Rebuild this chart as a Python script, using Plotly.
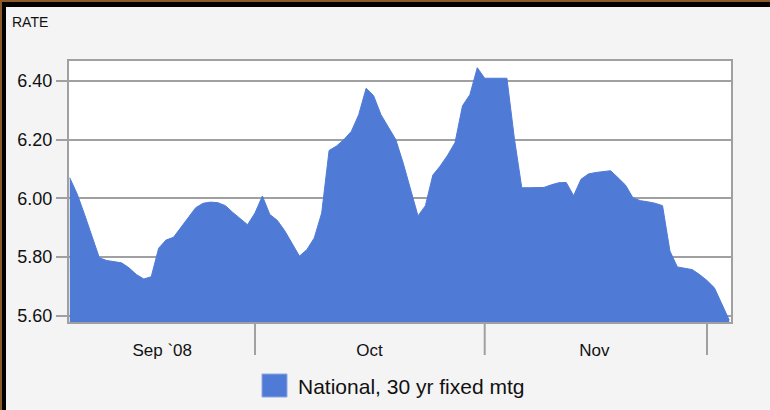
import plotly.graph_objects as go
import pandas as pd

# ---- data ----
dates = pd.date_range("2008-09-06", "2008-12-04", freq="D")
rates = [
    6.070, 6.015, 5.945, 5.873, 5.797, 5.788, 5.783, 5.780, 5.763, 5.740,
    5.725, 5.733, 5.830, 5.858, 5.867, 5.900, 5.935, 5.968, 5.983, 5.987,
    5.985, 5.975, 5.952, 5.930, 5.910, 5.950, 6.008, 5.945, 5.925, 5.890,
    5.845, 5.803, 5.825, 5.865, 5.950, 6.163, 6.178, 6.200, 6.228, 6.285,
    6.375, 6.350, 6.285, 6.243, 6.200, 6.120, 6.030, 5.940, 5.975, 6.079,
    6.110, 6.147, 6.190, 6.315, 6.353, 6.445, 6.409, 6.409, 6.409, 6.409,
    6.205, 6.036, 6.036, 6.036, 6.037, 6.046, 6.053, 6.054, 6.009, 6.065,
    6.083, 6.088, 6.092, 6.094, 6.070, 6.045, 6.002, 5.992, 5.988, 5.983,
    5.975, 5.820, 5.766, 5.762, 5.757, 5.740, 5.720, 5.695, 5.638, 5.585,
]
y_ticks = [5.60, 5.80, 6.00, 6.20, 6.40]
y_tick_text = ["5.60", "5.80", "6.00", "6.20", "6.40"]
month_bounds = ["2008-10-01", "2008-11-01", "2008-12-01"]
month_label_pos = ["2008-09-18 11:30", "2008-10-16 11:00", "2008-11-15 19:00"]
month_labels = ["Sep `08", "Oct", "Nov"]
series_name = "National, 30 yr fixed mtg"
axis_title = "RATE"

# ---- layout geometry (pixels) ----
W, H = 770, 410
L, R, T, B = 69, 731, 61, 322
PW, PH = R - L, B - T


def px(x):
    return (x - L) / PW


def py(y):
    return (B - y) / PH


BLUE = "#4f7bd6"
GRID = "#a0a0a0"
FONT = "Liberation Sans"

fig = go.Figure()
fig.add_trace(go.Scatter(
    x=dates, y=rates, mode="lines", fill="tozeroy",
    line=dict(color=BLUE, width=1), fillcolor=BLUE,
    name=series_name, showlegend=False, hoverinfo="x+y",
))

shapes = []
# month separators below the axis
for d in month_bounds:
    shapes.append(dict(type="line", xref="x", yref="paper", x0=d, x1=d,
                       y0=0, y1=py(355), line=dict(color=GRID, width=2)))
# legend swatch
shapes.append(dict(type="rect", xref="paper", yref="paper",
                   x0=px(262), x1=px(287), y0=py(374), y1=py(397),
                   fillcolor=BLUE, line=dict(color="#8ea7e3", width=1)))
# outer frame (brown + black on top and left)
shapes.append(dict(type="rect", xref="paper", yref="paper",
                   x0=px(0), x1=px(2), y0=py(0), y1=py(H),
                   fillcolor="#8b5a2b", line=dict(width=0)))
shapes.append(dict(type="rect", xref="paper", yref="paper",
                   x0=px(0), x1=px(W), y0=py(0), y1=py(2),
                   fillcolor="#8b5a2b", line=dict(width=0)))
shapes.append(dict(type="rect", xref="paper", yref="paper",
                   x0=px(2), x1=px(6), y0=py(2), y1=py(H),
                   fillcolor="#000000", line=dict(width=0)))
shapes.append(dict(type="rect", xref="paper", yref="paper",
                   x0=px(2), x1=px(W), y0=py(2), y1=py(7),
                   fillcolor="#000000", line=dict(width=0)))

annotations = [
    dict(text=axis_title, xref="paper", yref="paper", x=px(10), y=py(22),
         xanchor="left", yanchor="middle", showarrow=False,
         font=dict(family=FONT, size=14, color="#111111")),
    dict(text=series_name, xref="paper", yref="paper", x=px(296), y=py(386),
         xanchor="left", yanchor="middle", showarrow=False,
         font=dict(family=FONT, size=21, color="#111111")),
]

fig.update_layout(
    width=W, height=H,
    margin=dict(l=L, r=W - R, t=T, b=H - B, pad=0),
    paper_bgcolor="#f4f4f4", plot_bgcolor="#ffffff",
    showlegend=False,
    shapes=shapes, annotations=annotations,
    font=dict(family=FONT, color="#111111"),
)
fig.update_xaxes(
    range=["2008-09-05 21:36", "2008-12-04 05:45"],
    tickmode="array", tickvals=month_label_pos, ticktext=month_labels,
    ticks="outside", ticklen=12, tickcolor="rgba(0,0,0,0)",
    tickfont=dict(family=FONT, size=17, color="#111111"),
    showgrid=False, zeroline=False,
    showline=True, linecolor=GRID, linewidth=2, mirror=True,
)
fig.update_yaxes(
    range=[5.5785, 6.4678],
    tickmode="array", tickvals=y_ticks, ticktext=y_tick_text,
    ticks="outside", ticklen=11, tickcolor=GRID, tickwidth=2,
    tickfont=dict(family=FONT, size=18, color="#111111"),
    showgrid=True, gridcolor=GRID, gridwidth=2, zeroline=False,
    showline=True, linecolor=GRID, linewidth=2, mirror=True,
    layer="below traces",
)

fig.write_html(
    "out.html",
    config={"displayModeBar": False},
    post_script="document.body.style.margin='0';document.body.style.overflow='hidden';",
)
